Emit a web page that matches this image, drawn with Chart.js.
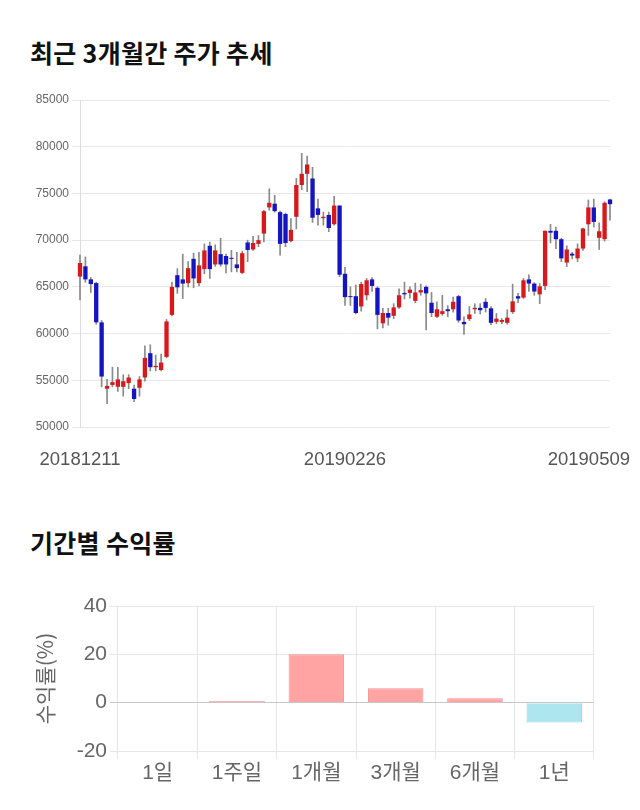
<!DOCTYPE html>
<html>
<head>
<meta charset="utf-8">
<script src="https://cdn.jsdelivr.net/npm/chart.js@4.4.0/dist/chart.umd.min.js"></script>
<style>
body{margin:0;width:640px;height:810px;background:#fff;position:relative;overflow:hidden;font-family:'Noto Sans CJK KR',sans-serif;}
.title{position:absolute;left:30px;font-weight:bold;font-size:25px;color:#111;line-height:34px;margin:0;letter-spacing:0.3px;}
#t1{top:35px;}
#t2{top:525px;}
#w1{position:absolute;left:0;top:85px;width:640px;height:400px;}
#w2{position:absolute;left:0;top:580px;width:640px;height:230px;}
</style>
</head>
<body>
<div class="title" id="t1">최근 3개월간 주가 추세</div>
<div id="w1"><canvas id="priceChart"></canvas></div>
<div class="title" id="t2">기간별 수익률</div>
<div id="w2"><canvas id="returnChart"></canvas></div>
<script>
// trading days, 20181211 ~ 20190509
const dates = [
  '20181211','20181212','20181213','20181214','20181217','20181218','20181219','20181220','20181221','20181224','20181226','20181227','20181228',
  '20190102','20190103','20190104','20190107','20190108','20190109','20190110','20190111','20190114','20190115','20190116','20190117','20190118',
  '20190121','20190122','20190123','20190124','20190125','20190128','20190129','20190130','20190131',
  '20190201','20190207','20190208','20190211','20190212','20190213','20190214','20190215','20190218','20190219','20190220','20190221','20190222',
  '20190225','20190226','20190227','20190228',
  '20190304','20190305','20190306','20190307','20190308','20190311','20190312','20190313','20190314','20190315','20190318','20190319','20190320',
  '20190321','20190322','20190325','20190326','20190327','20190328','20190329',
  '20190401','20190402','20190403','20190404','20190405','20190408','20190409','20190410','20190411','20190412','20190415','20190416','20190417',
  '20190418','20190419','20190422','20190423','20190424','20190425','20190426','20190429','20190430',
  '20190502','20190503','20190507','20190508','20190509'
];
const opens = [66100,67200,65800,65400,61200,54100,54500,54300,54300,54700,54100,54200,55300,57900,56400,56100,57500,62000,66250,65800,
  65400,68000,65400,66900,69400,67400,68500,68300,68100,67400,66500,69750,69000,69600,70700,73500,73900,73000,72800,69900,
  72500,75900,77100,76600,73400,72350,72700,71700,73700,66400,64000,64000,62900,64100,65800,64900,61100,62200,61900,62800,
  64350,64350,63500,64400,65000,63300,61800,62100,62600,62600,64000,61250,61550,62600,62750,63400,62700,61250,61250,61150,
  62300,64000,63850,65800,65350,64200,65100,71000,71000,70100,67600,68550,68050,69100,71700,73500,70250,70100,74350];
const highs = [68400,68200,66000,65500,61400,55100,56400,56400,55600,55600,54500,55400,58700,58800,57700,57800,61500,65500,66950,68500,
  67700,68600,68700,69600,69800,69500,70200,68500,68900,68700,68800,70000,70400,70500,73200,75500,74800,73100,72900,72300,
  76600,79300,79000,77800,74400,73000,73000,74700,73700,67100,65000,65200,65500,65900,66000,65000,62700,62700,63200,64800,
  65500,65000,65400,65300,65100,64400,63400,64100,63000,63900,64100,61800,62900,63200,63200,63750,62900,62150,61600,62550,
  65300,64300,65900,66300,65450,65350,71000,71700,71400,70200,69400,68700,69600,71300,74300,74400,71850,74100,74400];
const lows = [63600,65500,64400,61000,54300,52500,54300,53800,53300,54100,52700,53300,54900,56000,56000,56000,57400,61900,64300,63750,
  65000,64900,65100,66400,65900,67200,67200,66500,66600,66600,66400,67700,68900,69300,69800,73200,73000,68400,69300,69800,
  71200,75400,75200,71900,71600,71600,70900,71600,66100,63000,63000,62100,62400,63600,64500,60500,60600,60900,61600,62700,
  63700,63800,63300,64100,60400,61800,61700,61950,61800,62300,61200,59900,61400,62150,62100,62300,60950,61050,61050,61000,
  62150,63300,63750,64500,64100,63200,64700,69700,69100,67700,67150,68000,67700,68900,70500,71400,69000,69900,72150];
const closes = [67550,65800,65300,61200,55400,54400,54800,55100,54900,55300,53000,55100,57400,56400,56550,56900,61300,65000,64950,65350,
  67000,65900,67300,68900,66900,68900,67400,67400,68000,67000,68600,68950,69700,70000,73100,74000,73100,69600,69700,71100,
  75900,77100,78100,72400,72700,72500,71300,73700,66300,63900,63900,62200,65300,65700,65100,62000,62200,61700,62800,64100,
  64200,64700,64400,64650,64300,62200,62600,62400,62400,63400,61400,61000,62050,62750,62500,62750,61150,61600,61450,61700,
  63450,63750,65700,65350,64500,65050,71000,70800,70100,68050,69000,68350,69100,71250,73500,71950,70950,74000,73850];
const dateTickIdx = [0, 49, 98]; // which dates get a label under the chart
const yMin = 50000, yMax = 85000, yStep = 5000;

// period returns (%)
const periods = ['1일', '1주일', '1개월', '3개월', '6개월', '1년'];
const returns = [0, 0.7, 20, 6.0, 1.8, -8.2];

const upColor = '#d8191c';
const downColor = '#1414c0';
const wickColor = '#8a8a8a';

// candle = wick bar (low~high) + body bar (open~close)
let wickData = dates.map((d, i) => [lows[i], highs[i]]);
let bodyData = dates.map((d, i) => [opens[i], closes[i]]);
let bodyColors = dates.map((d, i) => closes[i] >= opens[i] ? upColor : downColor);

// draws the 3 date labels, last one pushed back inside the canvas like the original
const dateTicks = {
  id: 'dateTicks',
  afterDraw(chart) {
    let ctx = chart.ctx;
    let xs = chart.scales.x;
    ctx.save();
    ctx.font = '18.5px "Liberation Sans", Arial, sans-serif';
    ctx.fillStyle = '#555';
    ctx.textBaseline = 'middle';
    ctx.textAlign = 'left';
    dateTickIdx.forEach(idx => {
      let txt = dates[idx];
      let w = ctx.measureText(txt).width;
      let left = xs.getPixelForValue(idx) - w / 2;
      if (left + w > chart.width - 10) left = chart.width - 10 - w;
      if (left < 0) left = 0;
      ctx.fillText(txt, left, 375);
    });
    ctx.restore();
  }
};

var priceChart = new Chart(document.getElementById('priceChart').getContext('2d'), {
  type: 'bar',
  data: {
    labels: dates,
    datasets: [
      {data: bodyData, backgroundColor: bodyColors, borderWidth: 0, grouped: false, order: 1,
        barPercentage: 0.8, categoryPercentage: 1, minBarLength: 1, clip: false},
      {data: wickData, backgroundColor: wickColor, borderWidth: 0, grouped: false, order: 2,
        barThickness: 1, clip: false}
    ]
  },
  options: {
    responsive: true,
    maintainAspectRatio: false,
    animation: false,
    layout: {padding: {top: 15, right: 30, bottom: 0, left: 0}},
    plugins: {legend: {display: false}, tooltip: {enabled: false}},
    scales: {
      x: {
        offset: false,
        grid: {display: false},
        border: {display: false},
        ticks: {display: false},
        afterFit: s => { s.height = 58; }
      },
      y: {
        min: yMin, max: yMax,
        grid: {color: '#e8e8e8', tickLength: 8},
        border: {display: true, color: '#dcdcdc'},
        ticks: {stepSize: yStep, color: '#666', padding: 3, font: {family: '"Liberation Sans", Arial, sans-serif', size: 12},
          callback: v => '' + v},
        afterFit: s => { s.width = 80; }
      }
    }
  },
  plugins: [dateTicks]
});

var returnChart = new Chart(document.getElementById('returnChart').getContext('2d'), {
  type: 'bar',
  data: {
    labels: periods,
    datasets: [{
      data: returns,
      backgroundColor: returns.map(v => v >= 0 ? '#ffa3a3' : '#aee6ef'),
      borderColor: returns.map(v => v >= 0 ? '#f28f8f' : '#8fd3e0'),
      borderWidth: 1,
      barPercentage: 0.7,
      categoryPercentage: 1
    }]
  },
  options: {
    responsive: true,
    maintainAspectRatio: false,
    animation: false,
    layout: {padding: {top: 26, right: 46, bottom: 0, left: 0}},
    plugins: {legend: {display: false}, tooltip: {enabled: false}},
    scales: {
      x: {
        grid: {color: '#e6e6e6', offset: true, tickLength: 8},
        border: {display: false},
        ticks: {color: '#666', padding: 2, font: {family: '"Liberation Sans", "Noto Sans CJK KR", sans-serif', size: 21}},
        afterFit: s => { s.height = 59; }
      },
      y: {
        min: -20, max: 40,
        grid: {color: ctx => ctx.tick && ctx.tick.value === 0 ? '#c8c8c8' : '#e6e6e6', tickLength: 8},
        border: {display: false},
        ticks: {stepSize: 20, color: '#666', padding: 3, font: {family: '"Liberation Sans", Arial, sans-serif', size: 21}},
        title: {display: true, text: '수익률(%)', color: '#666', padding: {top: 32, bottom: 0},
          font: {family: '"Noto Sans CJK KR", sans-serif', size: 21}},
        afterFit: s => { s.width = 118; }
      }
    }
  }
});
</script>
</body>
</html>
